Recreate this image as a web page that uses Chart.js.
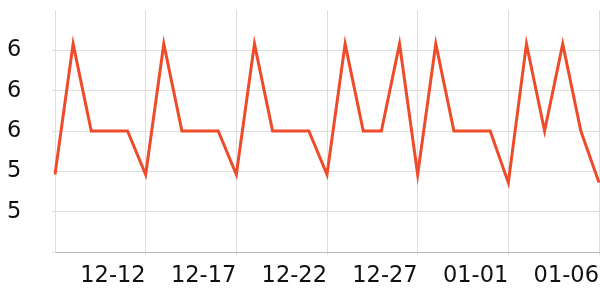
<!DOCTYPE html>
<html>
<head>
<meta charset="utf-8">
<script src="https://cdn.jsdelivr.net/npm/chart.js@4/dist/chart.umd.min.js"></script>
<style>
  html, body { margin: 0; padding: 0; background: #fff; }
  #wrap { width: 600px; height: 300px; }
</style>
</head>
<body>
<div id="wrap"><canvas id="chart"></canvas></div>
<script>
const dates = [
  "12-07", "12-08", "12-09", "12-10", "12-11", "12-12", "12-13", "12-14",
  "12-15", "12-16", "12-17", "12-18", "12-19", "12-20", "12-21", "12-22",
  "12-23", "12-24", "12-25", "12-26", "12-27", "12-28", "12-29", "12-30",
  "12-31", "01-01", "01-02", "01-03", "01-04", "01-05", "01-06",
];
const values = [
  5.23, 6.04, 5.5, 5.5, 5.5, 5.23, 6.04, 5.5, 5.5, 5.5, 5.23, 6.04, 5.5, 5.5, 5.5, 5.23,
  6.04, 5.5, 5.5, 6.04, 5.23, 6.04, 5.5, 5.5, 5.5, 5.18, 6.04, 5.5, 6.04, 5.5, 5.18,
];
const yMin = 4.75;
const yMax = 6.25;
const yStep = 0.25;
const labelEvery = 5;

const fontFamily = "'DejaVu Sans', sans-serif";
const gridColor = "#dddddd";

const ctx = document.getElementById("chart").getContext("2d");
new Chart(ctx, {
  type: "line",
  data: {
    labels: dates,
    datasets: [
      {
        data: values,
        borderColor: "#ee4b2b",
        borderWidth: 3,
        pointRadius: 0,
        tension: 0,
        fill: false,
      },
    ],
  },
  options: {
    responsive: true,
    maintainAspectRatio: false,
    animation: false,
    layout: {
      padding: { left: 7, right: 1, top: 10, bottom: 0 },
    },
    plugins: {
      legend: { display: false },
      tooltip: { enabled: false },
    },
    scales: {
      x: {
        offset: false,
        afterFit: (scale) => {
          scale.height = 48;
          scale.paddingLeft = 0;
          scale.paddingRight = 0;
        },
        grid: {
          color: (c) => (c.index % labelEvery === 0 && c.index > 0 ? gridColor : "rgba(0,0,0,0)"),
          tickLength: 3,
        },
        border: { color: "#bbbbbb", width: 1 },
        ticks: {
          autoSkip: false,
          maxRotation: 0,
          align: "end",
          padding: 8,
          color: "#111",
          font: { family: fontFamily, size: 22.5 },
          callback: function (value, index) {
            return index % labelEvery === 0 && index > 0 ? dates[index] : "";
          },
        },
      },
      y: {
        min: yMin,
        max: yMax,
        afterFit: (scale) => {
          scale.width = 48;
          scale.paddingTop = 0;
          scale.paddingBottom = 0;
        },
        grid: {
          color: (c) => (c.tick && c.tick.value >= yMax ? "rgba(0,0,0,0)" : gridColor),
          tickLength: 3,
        },
        border: { color: gridColor, width: 1 },
        ticks: {
          stepSize: yStep,
          crossAlign: "far",
          color: "#111",
          font: { family: fontFamily, size: 22.5 },
          callback: (v) => (v <= yMin || v >= yMax ? "" : Number(v).toFixed(0)),
        },
      },
    },
  },
});
</script>
</body>
</html>
